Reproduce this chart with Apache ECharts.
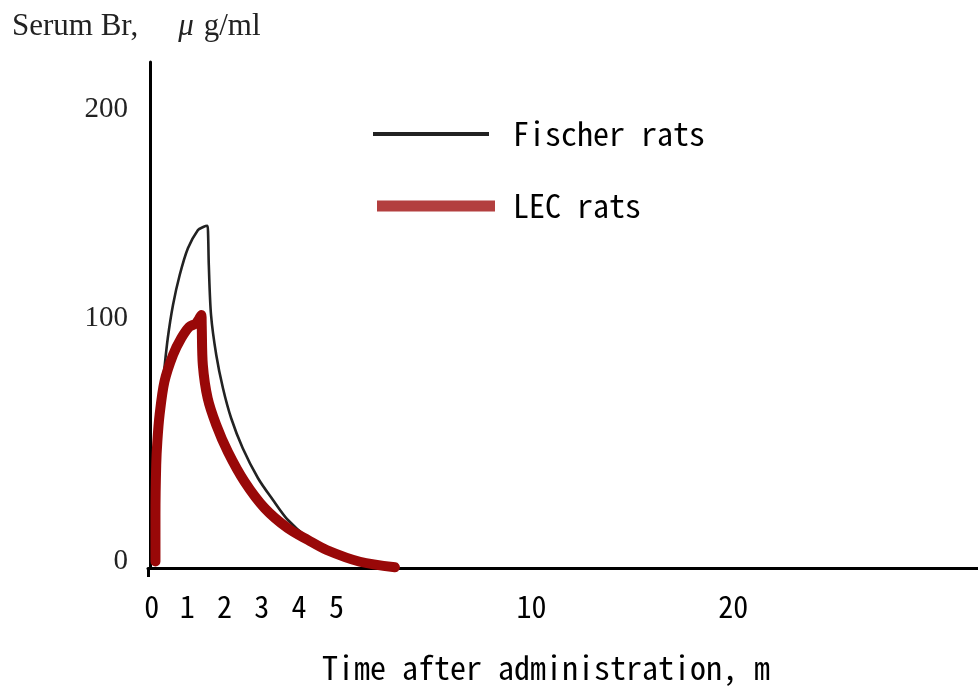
<!DOCTYPE html>
<html><head><meta charset="utf-8">
<script src="https://cdn.jsdelivr.net/npm/echarts@6/dist/echarts.min.js"></script>
<style>html,body{margin:0;padding:0;background:#fff}#c{width:978px;height:690px}</style>
</head><body><div id="c"></div>
<script>
// ---- data (time in minutes along a piecewise-stretched axis, serum Br in µg/ml)
const fischerTime  = [0.13,0.17,0.21,0.30,0.38,0.48,0.62,0.80,1.02,1.29,1.43,1.54,1.56,1.58,1.64,1.78,1.96,2.18,2.49,2.90,3.30,3.70,4.24,4.75,5.63,6.57];
const fischerValue = [9.2,27.2,47.2,66.5,78.5,91.9,105.2,117.2,127.9,135.2,136.4,136.9,134.0,121.2,101.2,85.2,71.9,59.9,47.9,35.9,27.2,19.2,12.0,7.4,2.6,0.4];
const lecTime  = [0.15,0.15,0.17,0.20,0.26,0.39,0.62,0.84,1.06,1.24,1.38,1.39,1.42,1.55,1.78,2.09,2.54,3.08,3.70,4.24,4.74,5.63,6.57];
const lecValue = [2.6,21.2,41.2,50.5,61.2,74.5,85.2,91.9,96.5,97.9,101.2,97.2,81.2,67.9,57.2,46.5,34.5,23.9,15.9,11.2,7.2,2.5,0.3];
const xTickLabels    = ['0','1','2','3','4','5','10','20'];
const xTickPositions = [0.05,1,2,3,4,5,10.23,15.64];
const yTickLabels    = ['0','100','200'];
const yTickPositions = [2.8,100,183.6];
const seriesNames = ['Fischer rats','LEC rats'];

const monoFamily = '"Noto Sans Mono CJK JP", "DejaVu Sans Mono", monospace';
const serifFamily = '"Liberation Serif", "DejaVu Serif", serif';
function charEm(family){
  const c = document.createElement('canvas').getContext('2d');
  c.font = '100px ' + family;
  return c.measureText('MMMMMMMMMM').width / 1000;
}
const cw = charEm(monoFamily);
const textSize = 16 / cw;
const digitSize = 15 / cw;

const fischer = fischerTime.map((t,i)=>[t,fischerValue[i]]);
const lec = lecTime.map((t,i)=>[t,lecValue[i]]);
const xMin = -0.05, xMax = 22.2;

const chart = echarts.init(document.getElementById('c'), null, {renderer:'canvas'});
chart.setOption({
  animation:false,
  backgroundColor:'#fff',
  title:[
    {left:12, top:11, padding:0,
     text:'{a|Serum Br,}{b|μ}{a|g/ml}',
     textStyle:{fontWeight:'normal',rich:{
       a:{fontFamily:serifFamily,fontSize:31,fontWeight:'normal',color:'#222'},
       b:{fontFamily:serifFamily,fontSize:31,fontWeight:'normal',fontStyle:'italic',color:'#222',padding:[0,10,0,40]}
     }}},
    {left:322, top:652, padding:0, text:'Time after administration, m',
     textStyle:{fontFamily:monoFamily,fontSize:textSize,fontWeight:'normal',color:'#000'}}
  ],
  legend:[
    {left:373, top:118, padding:0, icon:'rect', itemWidth:116, itemHeight:4, selectedMode:false,
     data:[seriesNames[0]], itemStyle:{color:'#222',borderWidth:0},
     formatter:'{t|{name}}',
     textStyle:{rich:{t:{fontFamily:monoFamily,fontSize:textSize,color:'#000',padding:[0,0,0,19]}}}},
    {left:377, top:190, padding:0, icon:'rect', itemWidth:118, itemHeight:11, selectedMode:false,
     data:[seriesNames[1]], itemStyle:{color:'#b33f3f',borderWidth:0},
     formatter:'{t|{name}}',
     textStyle:{rich:{t:{fontFamily:monoFamily,fontSize:textSize,color:'#000',padding:[0,0,0,13]}}}}
  ],
  grid:{left:148,right:0,top:62,bottom:122,outerBoundsMode:'none'},
  xAxis:{type:'value',min:xMin,max:xMax,
    axisLine:{show:true,lineStyle:{color:'#000',width:3}},
    splitLine:{show:false},
    axisTick:{show:true,customValues:[xMin],length:9,lineStyle:{color:'#000',width:3}},
    axisLabel:{customValues:xTickPositions,margin:24,
      formatter:(v)=>{const i=xTickPositions.indexOf(v);return i>=0?xTickLabels[i]:'';},
      fontFamily:monoFamily,fontSize:digitSize,color:'#000'}},
  yAxis:{type:'value',min:0,max:202.4,
    axisLine:{show:true,lineStyle:{color:'#000',width:3}},
    splitLine:{show:false},axisTick:{show:false},
    axisLabel:{customValues:yTickPositions,margin:20,
      formatter:(v)=>{const i=yTickPositions.indexOf(v);return i>=0?yTickLabels[i]:'';},
      fontFamily:serifFamily,fontSize:29,color:'#222'}},
  series:[
    {name:seriesNames[0],type:'line',data:fischer,showSymbol:false,smooth:0.3,
     lineStyle:{color:'#222',width:2.6,cap:'round',join:'round'},itemStyle:{color:'#222'}},
    {name:seriesNames[1],type:'line',data:lec,showSymbol:false,smooth:0.3,
     lineStyle:{color:'#990808',width:10,cap:'round',join:'round'},itemStyle:{color:'#990808'}}
  ]
});
</script></body></html>
